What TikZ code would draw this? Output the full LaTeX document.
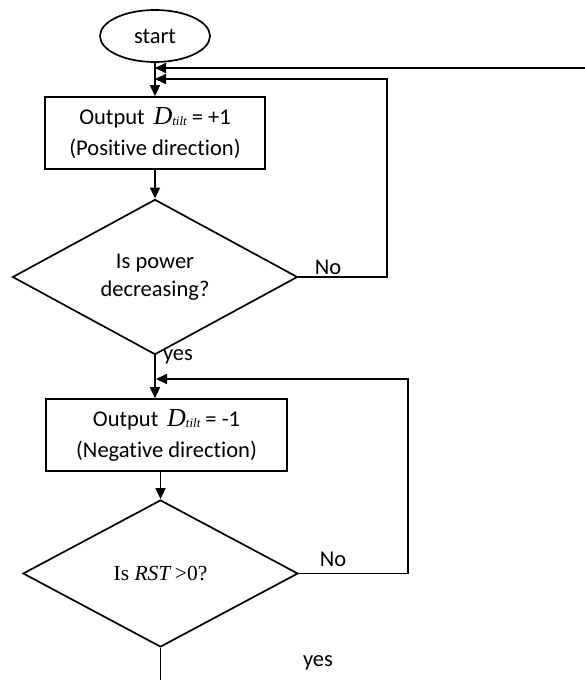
\documentclass[tikz,border=0pt]{standalone}
\usepackage{fontspec}
\setmainfont{Carlito}[Ligatures=NoCommon]
\newfontfamily\tnr{Liberation Serif}
\usetikzlibrary{shapes.geometric,arrows.meta}
\newcommand{\Dtilt}{{\tnr\itshape\fontsize{26}{26}\selectfont D\raisebox{-1pt}{\fontsize{13}{13}\selectfont tilt}}}
\begin{document}
\begin{tikzpicture}[x=1pt,y=-1pt,
  line width=1.7pt,
  every node/.style={font=\fontsize{22.5}{30}\selectfont},
  flow/.style={-{Triangle[length=11pt,width=10pt]}},
  term/.style={ellipse,draw,minimum width=110pt,minimum height=52pt,inner sep=0pt},
  proc/.style={rectangle,draw,minimum height=72pt,align=center,inner sep=0pt},
  test/.style={diamond,draw,align=center,inner sep=0pt},
  lbl/.style={inner sep=0pt}]
\useasboundingbox (0,0) rectangle (585,680);

% nodes
\node[term] (start) at (155,36) {start};
\node[proc,minimum width=220pt] (pos) at (155,133)
  {Output\, \Dtilt{} = +1\\[1pt](Positive direction)};
\node[test,minimum width=285pt,minimum height=148pt] (dec) at (155,277)
  {Is power\\[-2pt]decreasing?};
\node[proc,minimum width=241pt] (neg) at (166.5,435)
  {Output\, \Dtilt{} = -1\\[1pt](Negative direction)};
\node[test,minimum width=275pt,minimum height=147pt] (rst) at (160.5,573.5)
  {{\tnr\fontsize{21.5}{22}\selectfont Is \textit{RST} \kern-2pt>0?}};

% junction points on the vertical trunk
\coordinate (ja) at (155,68);
\coordinate (jb) at (155,79);
\coordinate (jc) at (156,379);
\coordinate (far) at (585,68);
\coordinate (out) at (160.5,680);

% connectors
\draw[flow] (start.south) -- (pos.north);
\draw[flow] (far) -- (ja);
\draw[flow] (pos.south) -- (dec.north);
\draw[flow] (dec.east) -- (387,277) |- (jb);
\draw[flow] (dec.south) -- (dec.south |- neg.north);
\draw[flow] (rst.north |- neg.south) -- (rst.north);
\draw[flow] (rst.east) -- (408,573.5) |- (jc);
\draw (rst.south) -- (out);

% branch labels
\node[lbl] (no1) at (328,267) {No};
\node[lbl] (yes1) at (178,357) {yes};
\node[lbl] (no2) at (333,559) {No};
\node[lbl] (yes2) at (318,663) {yes};
\end{tikzpicture}
\end{document}
